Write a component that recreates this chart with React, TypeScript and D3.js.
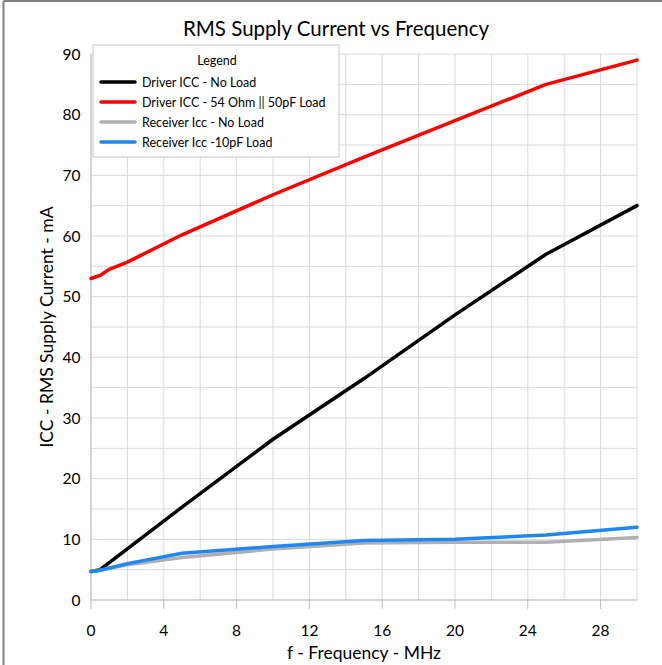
import React from "react";
import * as d3 from "d3";

const freqDriverNoLoad = [0, 0.5, 5, 10, 15, 20, 25, 30];
const iccDriverNoLoad = [4.7, 5.0, 15.3, 26.5, 36.5, 47.0, 57.0, 65.0];

const freqDriverLoad = [0, 0.5, 1, 2, 5, 10, 15, 20, 25, 30];
const iccDriverLoad = [53.0, 53.5, 54.5, 55.7, 60.2, 66.8, 73.0, 79.0, 85.0, 89.0];

const freqReceiverNoLoad = [0, 0.5, 2, 5, 10, 15, 20, 25, 30];
const iccReceiverNoLoad = [4.7, 4.9, 5.8, 7.0, 8.4, 9.4, 9.5, 9.5, 10.3];

const freqReceiverLoad = [0, 0.5, 2, 5, 10, 15, 20, 25, 30];
const iccReceiverLoad = [4.7, 4.9, 6.0, 7.7, 8.8, 9.8, 10.0, 10.7, 12.0];

const seriesNames = [
  "Driver ICC - No Load",
  "Driver ICC - 54 Ohm || 50pF Load",
  "Receiver Icc - No Load",
  "Receiver Icc -10pF Load",
];
const seriesColors = ["#000000", "#ff0000", "#b0b0b0", "#1e88f0"];

const xTicks = [0, 4, 8, 12, 16, 20, 24, 28];
const yTicks = [0, 10, 20, 30, 40, 50, 60, 70, 80, 90];

const FONT = "Lato, 'Open Sans', sans-serif";

export default function App() {
  const W = 662;
  const H = 665;
  const left = 91;
  const right = 637;
  const top = 54;
  const bottom = 600;

  const x = d3.scaleLinear().domain([0, 30]).range([left, right]);
  const y = d3.scaleLinear().domain([0, 90]).range([bottom, top]);

  const series = [
    { xs: freqDriverNoLoad, ys: iccDriverNoLoad },
    { xs: freqDriverLoad, ys: iccDriverLoad },
    { xs: freqReceiverNoLoad, ys: iccReceiverNoLoad },
    { xs: freqReceiverLoad, ys: iccReceiverLoad },
  ];

  const line = d3
    .line<[number, number]>()
    .x((d) => x(d[0]))
    .y((d) => y(d[1]))
    .curve(d3.curveLinear);

  const xGrid = d3.range(0, 31, 2);
  const yGrid = d3.range(0, 91, 5);

  const legendX = 93;
  const legendY = 45;
  const legendW = 246;
  const legendH = 112;

  return (
    <svg
      width={W}
      height={H}
      style={{ position: "fixed", top: 0, left: 0, background: "#fff" }}
      fontFamily={FONT}
    >
      <rect x={0} y={0} width={W} height={H} fill="#fff" />
      <line x1={3.5} y1={1} x2={W} y2={1} stroke="#808080" strokeWidth={2} />
      <line x1={3.5} y1={1} x2={3.5} y2={H} stroke="#808080" strokeWidth={2} />

      {xGrid.map((v) => (
        <line key={"gx" + v} x1={x(v)} x2={x(v)} y1={top} y2={bottom} stroke="#d9d9d9" strokeWidth={1} />
      ))}
      {yGrid.map((v) => (
        <line key={"gy" + v} x1={left} x2={right} y1={y(v)} y2={y(v)} stroke="#d9d9d9" strokeWidth={1} />
      ))}
      <line x1={left} x2={right} y1={bottom} y2={bottom} stroke="#bfbfbf" strokeWidth={1} />
      <line x1={left} x2={left} y1={top} y2={bottom} stroke="#bfbfbf" strokeWidth={1} />
      {xTicks.map((v) => (
        <line key={"tx" + v} x1={x(v)} x2={x(v)} y1={bottom} y2={bottom + 9} stroke="#bfbfbf" strokeWidth={1} />
      ))}

      {xTicks.map((v) => (
        <text key={"lx" + v} x={x(v)} y={636} fontSize={15.5} textAnchor="middle" fill="#000">
          {v}
        </text>
      ))}
      {yTicks.map((v) => (
        <text key={"ly" + v} x={80.5} y={y(v) + 5.5} fontSize={15.5} textAnchor="end" fill="#000">
          {v}
        </text>
      ))}

      {series.map((s, i) => (
        <path
          key={"s" + i}
          d={line(s.xs.map((xv, j) => [xv, s.ys[j]] as [number, number])) || ""}
          fill="none"
          stroke={seriesColors[i]}
          strokeWidth={3.5}
          strokeLinejoin="round"
          strokeLinecap="round"
        />
      ))}

      <text x={336} y={36} fontSize={20.5} textAnchor="middle" fill="#000">
        RMS Supply Current vs Frequency
      </text>
      <text x={364} y={659} fontSize={17.5} textAnchor="middle" fill="#000">
        f - Frequency - MHz
      </text>
      <text
        transform={`translate(53, ${(top + bottom) / 2}) rotate(-90)`}
        fontSize={17.5}
        textAnchor="middle"
        fill="#000"
      >
        ICC - RMS Supply Current - mA
      </text>

      <rect x={legendX} y={legendY} width={legendW} height={legendH} fill="#fff" stroke="#c8c8c8" strokeWidth={1} />
      <text x={legendX + 124} y={legendY + 20} fontSize={12.5} textAnchor="middle" fill="#000">
        Legend
      </text>
      {seriesNames.map((n, i) => {
        const ly = legendY + 37 + i * 20;
        return (
          <g key={"lg" + i}>
            <line x1={legendX + 8} x2={legendX + 42} y1={ly} y2={ly} stroke={seriesColors[i]} strokeWidth={3.5} strokeLinecap="round" />
            <text x={legendX + 49} y={ly + 4.5} fontSize={12.5} fill="#000">
              {n}
            </text>
          </g>
        );
      })}
    </svg>
  );
}
